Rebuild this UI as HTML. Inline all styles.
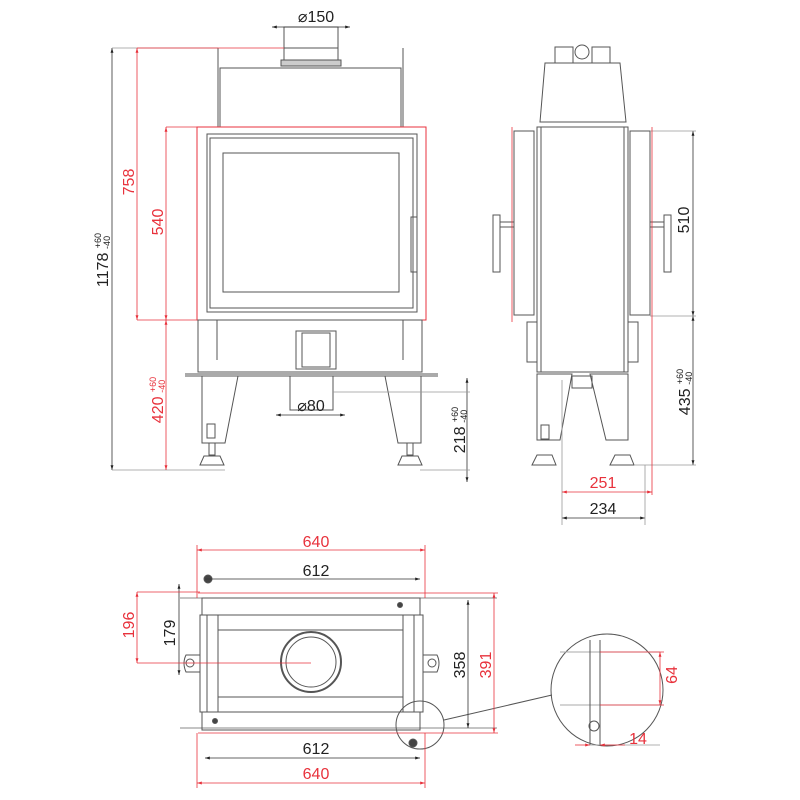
<!DOCTYPE html>
<html><head><meta charset="utf-8"><style>html,body{margin:0;padding:0;background:#fff}svg{display:block}</style></head>
<body>
<svg width="800" height="800" viewBox="0 0 800 800" xmlns="http://www.w3.org/2000/svg" font-family="Liberation Sans, sans-serif">
<defs>
<marker id="ak" viewBox="0 0 10 10" refX="10" refY="5" markerWidth="8" markerHeight="6" orient="auto-start-reverse"><path d="M0,2 L10,5 L0,8z" fill="#222"/></marker>
<marker id="ar" viewBox="0 0 10 10" refX="10" refY="5" markerWidth="8" markerHeight="6" orient="auto-start-reverse"><path d="M0,2 L10,5 L0,8z" fill="#e8323c"/></marker>
</defs>
<g fill="none" stroke="#555" stroke-width="1">
<rect x="284" y="27" width="54" height="36"/><line x1="284" y1="48" x2="338" y2="48"/><rect x="281" y="60" width="60" height="6" fill="#ccc"/>
<line x1="218" y1="48" x2="218" y2="127"/><line x1="403" y1="48" x2="403" y2="127"/>
<rect x="220" y="68" width="181" height="59"/>
<rect x="197" y="127" width="229" height="193" stroke="#e8323c"/>
<rect x="207" y="134" width="210" height="178"/><rect x="210" y="138" width="203" height="170"/>
<rect x="223" y="153" width="176" height="139"/>
<rect x="411" y="217" width="6" height="55"/>
<rect x="198" y="320" width="224" height="52"/><line x1="217" y1="320" x2="217" y2="360"/><line x1="403" y1="320" x2="403" y2="360"/>
<rect x="296" y="331" width="40" height="38"/><rect x="302" y="333" width="28" height="34"/>
<line x1="185" y1="374" x2="438" y2="374"/><line x1="185" y1="376" x2="438" y2="376"/>
<path d="M202 376 L238 376 L225 443 L202 443z"/><rect x="207" y="424" width="8" height="14"/>
<path d="M385 376 L421 376 L421 443 L398 443z"/>
<rect x="209" y="443" width="6" height="12"/><path d="M200 465 L204 456 L220 456 L224 465z"/>
<rect x="407" y="443" width="6" height="12"/><path d="M398 465 L402 456 L418 456 L422 465z"/>
<rect x="290" y="376" width="43" height="34"/>
<rect x="555" y="47" width="18" height="16"/><rect x="592" y="47" width="18" height="16"/><circle cx="582" cy="52" r="7"/>
<path d="M545 63 L620 63 L626 122 L540 122z"/>
<rect x="537" y="127" width="91" height="245"/><line x1="541" y1="127" x2="541" y2="372"/><line x1="624" y1="127" x2="624" y2="372"/>
<rect x="514" y="131" width="20" height="184"/><rect x="630" y="131" width="20" height="184"/>
<rect x="493" y="215" width="7" height="57"/><line x1="500" y1="222" x2="514" y2="222"/><line x1="500" y1="227" x2="514" y2="227"/>
<rect x="664" y="215" width="7" height="57"/><line x1="650" y1="222" x2="664" y2="222"/><line x1="650" y1="227" x2="664" y2="227"/>
<rect x="527" y="322" width="10" height="40"/><rect x="628" y="322" width="10" height="40"/>
<path d="M537 374 L572 374 L560 440 L537 440z"/><path d="M590 374 L628 374 L628 440 L606 440z"/>
<rect x="541" y="425" width="8" height="14"/><rect x="572" y="376" width="20" height="12"/>
<path d="M532 465 L537 455 L552 455 L556 465z"/><path d="M610 465 L615 455 L630 455 L634 465z"/>
<line x1="180" y1="598" x2="497" y2="598" stroke="#888"/><line x1="180" y1="728" x2="497" y2="728" stroke="#888"/>
<rect x="202" y="598" width="218" height="17"/><rect x="200" y="615" width="223" height="97"/>
<rect x="202" y="712" width="218" height="18"/>
<line x1="207" y1="615" x2="207" y2="712"/><line x1="218" y1="615" x2="218" y2="712"/>
<line x1="403" y1="615" x2="403" y2="712"/><line x1="414" y1="615" x2="414" y2="712"/>
<line x1="218" y1="630" x2="403" y2="630"/><line x1="218" y1="697" x2="403" y2="697"/>
<path d="M200 655 L186 655 Q182 663 186 672 L200 672"/><circle cx="190" cy="663" r="4"/>
<path d="M423 655 L437 655 Q441 663 437 672 L423 672"/><circle cx="432" cy="663" r="4"/>
<circle cx="311" cy="662" r="30" stroke-width="2"/><circle cx="311" cy="662" r="25"/>
<circle cx="208" cy="579" r="4" fill="#444"/><circle cx="413" cy="743" r="4" fill="#444"/>
<circle cx="400" cy="605" r="2.5" fill="#444"/><circle cx="215" cy="721" r="2.5" fill="#444"/>
<circle cx="420" cy="725" r="24"/><line x1="444" y1="720" x2="552" y2="695"/>
<circle cx="607" cy="690" r="56"/>
<line x1="560" y1="652" x2="660" y2="652" stroke="#aaa"/><line x1="560" y1="705" x2="660" y2="705" stroke="#aaa"/>
<line x1="590" y1="640" x2="590" y2="745"/><line x1="600" y1="640" x2="600" y2="745"/><circle cx="594" cy="726" r="5"/>
</g>
<g stroke="#333" stroke-width="0.8">
<line x1="272" y1="27" x2="350" y2="27" marker-start="url(#ak)" marker-end="url(#ak)"/>
<line x1="112" y1="48" x2="112" y2="470" marker-start="url(#ak)" marker-end="url(#ak)"/>
<line x1="112" y1="48" x2="218" y2="48" stroke="#999"/><line x1="112" y1="470" x2="225" y2="470" stroke="#999"/>
<line x1="276" y1="415" x2="345" y2="415" marker-start="url(#ak)" marker-end="url(#ak)"/>
<line x1="467" y1="378" x2="467" y2="482" marker-start="url(#ak)" marker-end="url(#ak)"/>
<line x1="333" y1="392" x2="470" y2="392" stroke="#999"/><line x1="420" y1="470" x2="470" y2="470" stroke="#999"/>
<line x1="693" y1="131" x2="693" y2="316" marker-start="url(#ak)" marker-end="url(#ak)"/>
<line x1="693" y1="316" x2="693" y2="465" marker-start="url(#ak)" marker-end="url(#ak)"/>
<line x1="650" y1="131" x2="696" y2="131" stroke="#999"/><line x1="650" y1="316" x2="696" y2="316" stroke="#999"/><line x1="634" y1="465" x2="696" y2="465" stroke="#999"/>
<line x1="562" y1="518" x2="645" y2="518" marker-start="url(#ak)" marker-end="url(#ak)"/>
<line x1="562" y1="380" x2="562" y2="525" stroke="#999"/><line x1="645" y1="465" x2="645" y2="525" stroke="#999"/>
<line x1="205" y1="579" x2="420" y2="579" marker-end="url(#ak)"/>
<line x1="205" y1="758" x2="420" y2="758" marker-start="url(#ak)" marker-end="url(#ak)"/>
<line x1="179" y1="584" x2="179" y2="675" marker-start="url(#ak)" marker-end="url(#ak)"/>
<line x1="468" y1="600" x2="468" y2="728" marker-start="url(#ak)" marker-end="url(#ak)"/>
<line x1="590" y1="745" x2="660" y2="745" stroke="#999"/>
</g>
<g stroke="#e8323c" stroke-width="0.8">
<line x1="137" y1="48" x2="137" y2="320" marker-start="url(#ar)" marker-end="url(#ar)"/>
<line x1="137" y1="48" x2="284" y2="48"/><line x1="137" y1="320" x2="197" y2="320"/><line x1="166" y1="127" x2="197" y2="127"/>
<line x1="166" y1="127" x2="166" y2="320" marker-start="url(#ar)" marker-end="url(#ar)"/>
<line x1="166" y1="320" x2="166" y2="470" marker-start="url(#ar)" marker-end="url(#ar)"/>
<line x1="512" y1="127" x2="512" y2="322"/><line x1="652" y1="127" x2="652" y2="495"/>
<line x1="562" y1="492" x2="652" y2="492" marker-start="url(#ar)" marker-end="url(#ar)"/>
<line x1="197" y1="550" x2="425" y2="550" marker-start="url(#ar)" marker-end="url(#ar)"/>
<line x1="197" y1="545" x2="197" y2="598"/><line x1="425" y1="545" x2="425" y2="598"/>
<line x1="198" y1="593" x2="420" y2="593"/><line x1="198" y1="733" x2="420" y2="733"/>
<line x1="197" y1="783" x2="425" y2="783" marker-start="url(#ar)" marker-end="url(#ar)"/>
<line x1="197" y1="733" x2="197" y2="788"/><line x1="425" y1="733" x2="425" y2="788"/>
<line x1="137" y1="592" x2="137" y2="663" marker-start="url(#ar)" marker-end="url(#ar)"/>
<line x1="137" y1="592" x2="200" y2="592"/><line x1="137" y1="663" x2="311" y2="663"/>
<line x1="494" y1="593" x2="494" y2="733" marker-start="url(#ar)" marker-end="url(#ar)"/>
<line x1="420" y1="593" x2="498" y2="593"/><line x1="420" y1="733" x2="498" y2="733"/>
<line x1="660" y1="652" x2="660" y2="705" marker-start="url(#ar)" marker-end="url(#ar)"/>
<line x1="600" y1="652" x2="664" y2="652"/><line x1="600" y1="705" x2="664" y2="705"/>
<line x1="575" y1="745" x2="590" y2="745" marker-end="url(#ar)"/><line x1="625" y1="745" x2="600" y2="745" marker-end="url(#ar)"/>
</g>
<g font-size="16" fill="#222" text-anchor="middle">
<text x="316" y="22">⌀150</text>
<text x="311" y="411">⌀80</text>
<text transform="translate(108,260) rotate(-90)">1178 <tspan font-size="9" dy="-7">+60</tspan><tspan font-size="9" dx="-16" dy="9">-40</tspan></text>
<text transform="translate(465,430) rotate(-90)">218 <tspan font-size="9" dy="-7">+60</tspan><tspan font-size="9" dx="-16" dy="9">-40</tspan></text>
<text transform="translate(689,220) rotate(-90)">510</text>
<text transform="translate(690,392) rotate(-90)">435 <tspan font-size="9" dy="-7">+60</tspan><tspan font-size="9" dx="-16" dy="9">-40</tspan></text>
<text x="603" y="514">234</text>
<text x="316" y="576">612</text>
<text x="316" y="754">612</text>
<text transform="translate(175,633) rotate(-90)">179</text>
<text transform="translate(465,665) rotate(-90)">358</text>
<text x="638" y="744" fill="#e8323c">14</text>
<text transform="translate(677,675) rotate(-90)" fill="#e8323c">64</text>
</g>
<g font-size="16" fill="#e8323c" text-anchor="middle">
<text transform="translate(134,182) rotate(-90)">758</text>
<text transform="translate(163,222) rotate(-90)">540</text>
<text transform="translate(163,400) rotate(-90)">420 <tspan font-size="9" dy="-7">+60</tspan><tspan font-size="9" dx="-16" dy="9">-40</tspan></text>
<text x="603" y="488">251</text>
<text x="316" y="547">640</text>
<text x="316" y="779">640</text>
<text transform="translate(134,625) rotate(-90)">196</text>
<text transform="translate(491,665) rotate(-90)">391</text>
</g>
</svg>
</body></html>
